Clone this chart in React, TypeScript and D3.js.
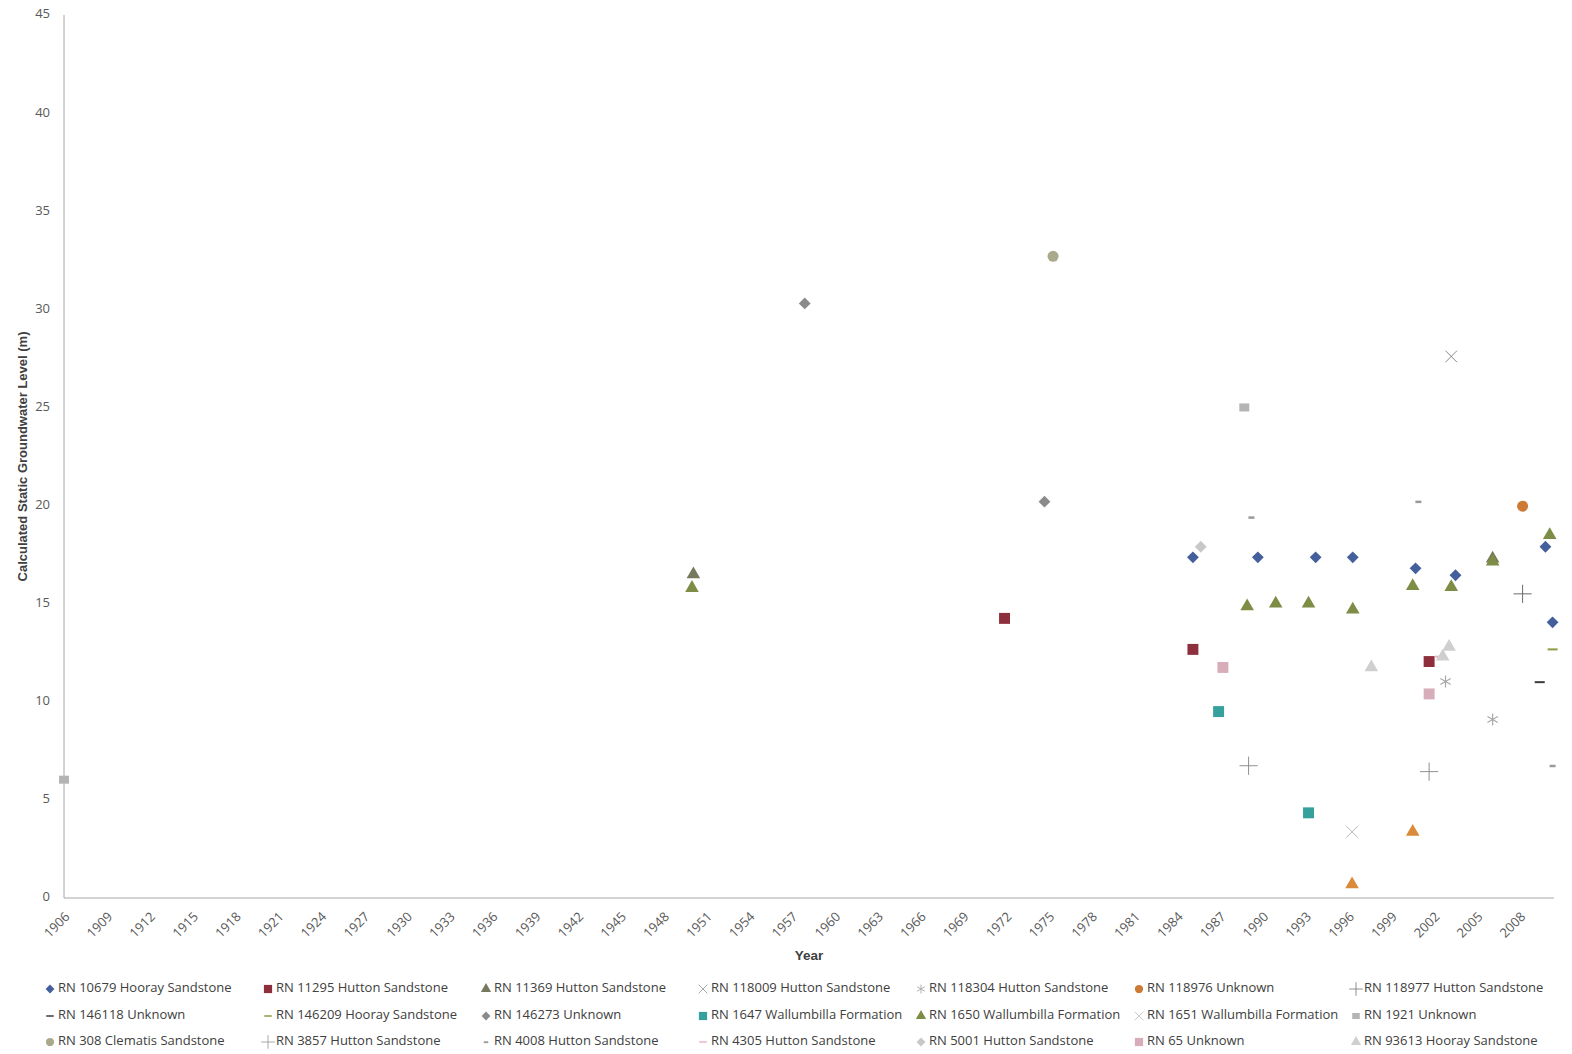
import * as d3 from "d3";

const W = 1572;
const H = 1054;
const marginLeft = 64;
const plotRight = 1554;
const plotTop = 15;
const plotBottom = 898;

// year ticks (every 3 years) and value ticks
const yearTicks = d3.range(1906, 2009, 3);
const levelTicks = [0, 5, 10, 15, 20, 25, 30, 35, 40, 45];

// series: [year, level]
const rn10679 = [[1985.1, 17.36], [1989.65, 17.36], [1993.7, 17.36], [1996.3, 17.36], [2000.7, 16.8], [2003.5, 16.45], [2009.8, 17.9], [2010.3, 14.05]];
const rn11295 = [[1971.9, 14.25], [1985.1, 12.67], [2001.65, 12.05]];
const rn11369 = [[1950.1, 16.5], [2006.1, 17.3]];
const rn118009 = [[2003.2, 27.6]];
const rn118304 = [[2006.1, 9.1], [2002.8, 11.03]];
const rn118976 = [[2008.2, 19.97]];
const rn118977 = [[2008.2, 15.5]];
const rn146118 = [[2009.4, 11.0]];
const rn146209 = [[2010.3, 12.67]];
const rn146273 = [[1957.9, 30.3], [1974.7, 20.2]];
const rn1647 = [[1986.9, 9.5], [1993.2, 4.34]];
const rn1650 = [[1950.0, 15.8], [1988.9, 14.86], [1990.9, 15.0], [1993.2, 15.0], [1996.3, 14.7], [2000.5, 15.9], [2003.2, 15.85], [2006.1, 17.15], [2010.1, 18.5]];
const rn1651 = [[1996.25, 3.37]];
const rn1921 = [[1906.0, 6.03], [1988.7, 25.0]];
const rn308 = [[1975.3, 32.7]];
const rn3857 = [[1989.0, 6.74], [2001.65, 6.44]];
const rn4008 = [[1989.2, 19.4], [2000.9, 20.2], [2010.3, 6.74]];
const rn4305 = [[2002.4, 12.3]];
const rn5001 = [[1985.65, 17.9]];
const rn65 = [[1987.2, 11.75], [2001.65, 10.4]];
const rn93613 = [[1997.6, 11.75], [2003.05, 12.8], [2002.6, 12.3]];
const unlabelled = [[1996.25, 0.7], [2000.5, 3.37]];

type Series = { name: string; shape: string; color: string; data: number[][]; legend: boolean };

const series: Series[] = [
  { name: "RN 10679 Hooray Sandstone", shape: "diamond", color: "#44609c", data: rn10679, legend: true },
  { name: "RN 11295 Hutton Sandstone", shape: "square", color: "#8e2f3e", data: rn11295, legend: true },
  { name: "RN 11369 Hutton Sandstone", shape: "triangle", color: "#77795e", data: rn11369, legend: true },
  { name: "RN 118009 Hutton Sandstone", shape: "x", color: "#8a8a8a", data: rn118009, legend: true },
  { name: "RN 118304 Hutton Sandstone", shape: "asterisk", color: "#a9a9a9", data: rn118304, legend: true },
  { name: "RN 118976 Unknown", shape: "circle", color: "#cc7a34", data: rn118976, legend: true },
  { name: "RN 118977 Hutton Sandstone", shape: "plus", color: "#6b6b6b", data: rn118977, legend: true },
  { name: "RN 146118 Unknown", shape: "dash", color: "#3d3d3d", data: rn146118, legend: true },
  { name: "RN 146209 Hooray Sandstone", shape: "dash", color: "#8e9a45", data: rn146209, legend: true },
  { name: "RN 146273 Unknown", shape: "diamond", color: "#8a8a8a", data: rn146273, legend: true },
  { name: "RN 1647 Wallumbilla Formation", shape: "square", color: "#36a09c", data: rn1647, legend: true },
  { name: "RN 1650 Wallumbilla Formation", shape: "triangle", color: "#7d8d46", data: rn1650, legend: true },
  { name: "RN 1651 Wallumbilla Formation", shape: "x", color: "#b8b8b8", data: rn1651, legend: true },
  { name: "RN 1921 Unknown", shape: "bar", color: "#b4b4b4", data: rn1921, legend: true },
  { name: "RN 308 Clematis Sandstone", shape: "circle", color: "#a9a98c", data: rn308, legend: true },
  { name: "RN 3857 Hutton Sandstone", shape: "plus", color: "#8f8f8f", data: rn3857, legend: true },
  { name: "RN 4008 Hutton Sandstone", shape: "dot", color: "#9a9a9a", data: rn4008, legend: true },
  { name: "RN 4305 Hutton Sandstone", shape: "dash", color: "#e6b4c2", data: rn4305, legend: true },
  { name: "RN 5001 Hutton Sandstone", shape: "diamond", color: "#c8c8c8", data: rn5001, legend: true },
  { name: "RN 65 Unknown", shape: "square", color: "#d6adb8", data: rn65, legend: true },
  { name: "RN 93613 Hooray Sandstone", shape: "triangle", color: "#cfcfcf", data: rn93613, legend: true },
  { name: "", shape: "triangle", color: "#d98a3a", data: unlabelled, legend: false },
];

const font = "'Open Sans', 'Liberation Sans', sans-serif";

const Marker = ({ shape, color, x, y, s = 1 }: { shape: string; color: string; x: number; y: number; s?: number }) => {
  const t = `translate(${x},${y}) scale(${s})`;
  if (shape === "diamond") {
    return <path transform={`${t} rotate(45)`} d={d3.symbol(d3.symbolSquare, 70)()!} fill={color} />;
  }
  if (shape === "square") {
    return <path transform={t} d={d3.symbol(d3.symbolSquare, 120)()!} fill={color} />;
  }
  if (shape === "triangle") {
    return <path transform={t} d={d3.symbol(d3.symbolTriangle, 80)()!} fill={color} />;
  }
  if (shape === "circle") {
    return <path transform={t} d={d3.symbol(d3.symbolCircle, 95)()!} fill={color} />;
  }
  if (shape === "x") {
    return <path transform={t} d={d3.symbol(d3.symbolTimes, 90)()!} fill="none" stroke={color} strokeWidth={1} />;
  }
  if (shape === "asterisk") {
    return <path transform={t} d={d3.symbol(d3.symbolAsterisk, 100)()!} fill="none" stroke={color} strokeWidth={1.2} />;
  }
  if (shape === "plus") {
    return <path transform={t} d={d3.symbol(d3.symbolPlus, 110)()!} fill="none" stroke={color} strokeWidth={1} />;
  }
  if (shape === "dash") {
    return <rect transform={t} x={-5} y={-1} width={10} height={2} fill={color} />;
  }
  if (shape === "dot") {
    return <rect transform={t} x={-3} y={-1} width={6} height={2.5} fill={color} />;
  }
  // bar: small blurry block
  return <rect transform={t} x={-5} y={-4} width={10} height={8} fill={color} />;
};

const App = () => {
  const xScale = d3.scaleLinear().domain([1906, 2010.4]).range([marginLeft, plotRight]);
  const yScale = d3.scaleLinear().domain([0, 45]).range([plotBottom, plotTop]);

  const legendCols = [50, 268, 486, 703, 921, 1139, 1356];
  const legendRows = [989, 1016, 1042];

  return (
    <div style={{ position: "absolute", left: 0, top: 0 }}>
      <svg width={W} height={H} viewBox={`0 0 ${W} ${H}`} style={{ display: "block", background: "#fff" }}>
        {/* axes */}
        <line x1={marginLeft} x2={marginLeft} y1={plotTop} y2={plotBottom} stroke="#a6a6a6" />
        <line x1={marginLeft} x2={plotRight} y1={plotBottom} y2={plotBottom} stroke="#a6a6a6" />
        <g className="y-ticks">
          {levelTicks.map((t) => (
            <text key={t} x={50} y={yScale(t)} textAnchor="end" dominantBaseline="middle" fontSize={13} fill="#595959" fontFamily={font}>
              {t}
            </text>
          ))}
        </g>
        <g className="x-ticks">
          {yearTicks.map((t) => (
            <text
              key={t}
              transform={`translate(${xScale(t) + 4},${plotBottom + 17}) rotate(-45)`}
              textAnchor="end"
              dominantBaseline="middle"
              fontSize={13}
              fill="#595959"
              fontFamily={font}
            >
              {t}
            </text>
          ))}
        </g>
        <text x={809} y={960} textAnchor="middle" fontSize={13.5} fontWeight="bold" fill="#404040" fontFamily="'Liberation Sans Narrow', 'Liberation Sans', sans-serif">
          Year
        </text>
        <text
          transform={`translate(27,${(plotTop + plotBottom) / 2}) rotate(-90)`}
          textAnchor="middle"
          fontSize={13}
          fontWeight="bold"
          fill="#404040"
          fontFamily="'Liberation Sans Narrow', 'Liberation Sans', sans-serif"
        >
          Calculated Static Groundwater Level (m)
        </text>

        {/* points */}
        <g className="points">
          {series.map((s, i) =>
            s.data.map((d, j) => (
              <Marker key={`${i}-${j}`} shape={s.shape} color={s.color} x={xScale(d[0])} y={yScale(d[1])} />
            ))
          )}
        </g>

        {/* legend */}
        <g className="legend">
          {series
            .filter((s) => s.legend)
            .map((s, i) => {
              const x = legendCols[i % 7];
              const y = legendRows[Math.floor(i / 7)];
              return (
                <g key={s.name}>
                  <Marker shape={s.shape} color={s.color} x={x} y={y} s={0.75} />
                  <text x={x + 8} y={y} dominantBaseline="middle" fontSize={13} fill="#404040" fontFamily={font}>
                    {s.name}
                  </text>
                </g>
              );
            })}
        </g>
      </svg>
    </div>
  );
};

export default App;
